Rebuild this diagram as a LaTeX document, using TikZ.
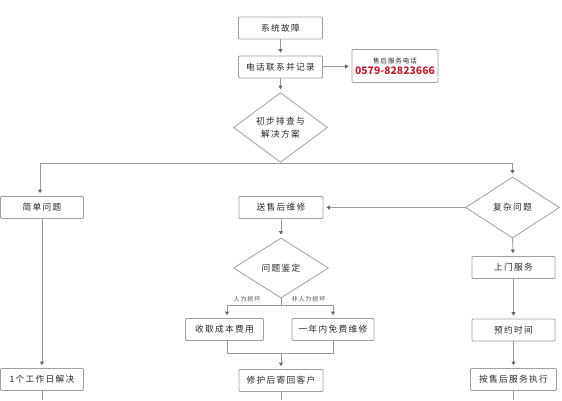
\documentclass[tikz,border=0pt]{standalone}
\usepackage{fontspec}
\newfontfamily\cjk[LetterSpace=15]{Noto Sans CJK SC}
\newfontfamily\cjknum{Noto Sans CJK SC}
\usetikzlibrary{arrows.meta,shapes.geometric}
\definecolor{txt}{HTML}{262626}
\definecolor{bord}{HTML}{A0A0A0}
\definecolor{lin}{HTML}{9A9A9A}
\definecolor{tip}{HTML}{666666}
\definecolor{redn}{HTML}{C3202F}
\tikzset{
  box/.style={draw=bord,line width=0.8pt,rounded corners=1pt,fill=white,
    minimum width=84pt,minimum height=22pt,inner sep=1pt,
    font=\cjk\fontsize{8.7}{10}\selectfont,text=txt},
  dia/.style={draw=bord,line width=0.8pt,diamond,fill=white,inner sep=0pt,
    font=\cjk\fontsize{8.7}{10}\selectfont,text=txt,align=center},
  conn/.style={draw=lin,line width=0.8pt},
  arr/.style={conn,-{Triangle[width=4pt,length=3.5pt,color=tip]},shorten >=3pt},
  small/.style={font=\cjk\fontsize{6}{7}\selectfont,text=txt!80,inner sep=0pt}
}
\begin{document}
\begin{tikzpicture}[x=1pt,y=-1pt]
\useasboundingbox (0,0) rectangle (562,400);
% nodes
\node[box] (b1) at (280.5,28) {系统故障};
\node[box] (b2) at (280.5,67) {电话联系并记录};
\node[draw=bord,line width=0.8pt,rounded corners=1pt,minimum width=86pt,minimum height=33pt,inner sep=0pt,align=center] (ph) at (395,66)
  {{\cjk\fontsize{6.5}{8}\selectfont\color{txt}售后服务电话}\\[-1pt]{\cjknum\bfseries\fontsize{10.4}{12}\selectfont\color{redn}0579-82823666}};
\node[dia,minimum width=94pt,minimum height=62pt] (d1) at (280.5,127.5) {初步排查与\\[3pt]解决方案};
\node[box,minimum width=83pt] (s1) at (42,207.5) {简单问题};
\node[box] (s2) at (281,207.5) {送售后维修};
\node[dia,minimum width=94pt,minimum height=61pt] (d3) at (512.5,207.5) {复杂问题};
\node[dia,minimum width=95pt,minimum height=60pt] (d2) at (281,268) {问题鉴定};
\node[box,minimum width=83pt] (r1) at (513.5,267.5) {上门服务};
\node[box,minimum width=78pt] (c1) at (224.5,329.5) {收取成本费用};
\node[box,minimum width=82pt] (c2) at (333,329.5) {一年内免费维修};
\node[box,minimum width=83pt] (r2) at (513.5,330) {预约时间};
\node[box,minimum width=83pt] (s3) at (42,379.5) {1个工作日解决};
\node[box] (s4) at (281,380.5) {修护后寄回客户};
\node[box,minimum width=86pt] (r3) at (513.5,379.5) {按售后服务执行};
\node[small] (l1) at (247,299) {人为损坏};
\node[small] (l2) at (308.5,299) {非人为损坏};
% junction coordinates
\coordinate (j1) at (280.5,163);
\coordinate (jl) at (40,163);
\coordinate (jr) at (512.5,163);
\coordinate (k1) at (281,305);
\coordinate (kl) at (227,305);
\coordinate (kr) at (333,305);
\coordinate (m1) at (281,353);
\coordinate (e1) at (42,400);
\coordinate (e2) at (281,400);
\coordinate (e3) at (513.5,400);
% connectors
\draw[arr] (b1) -- (b2);
\draw[arr] (b2) -- (ph);
\draw[arr] (b2) -- (d1);
\draw[conn] (d1.south) -- (j1);
\draw[arr] (j1) -- (jl) -- (s1.north -| jl);
\draw[arr] (j1) -- (jr) -- (d3.north);
\draw[arr] (d3.west) -- (s2.east);
\draw[arr] (s2) -- (d2);
\draw[conn] (d2.south) -- (k1);
\draw[arr] (k1) -- (kl) -- (c1.north -| kl);
\draw[arr] (k1) -- (kr) -- (c2.north);
\draw[conn] (c1.south -| kl) -- (kl |- m1) -- (kr |- m1) -- (c2.south);
\draw[arr] (m1) -- (s4);
\draw[arr] (s1) -- (s3);
\draw[arr] (d3.south) -- (r1);
\draw[arr] (r1) -- (r2);
\draw[arr] (r2) -- (r3);
\draw[conn] (s3) -- (e1);
\draw[conn] (s4) -- (e2);
\draw[conn] (r3) -- (e3);
\end{tikzpicture}
\end{document}
